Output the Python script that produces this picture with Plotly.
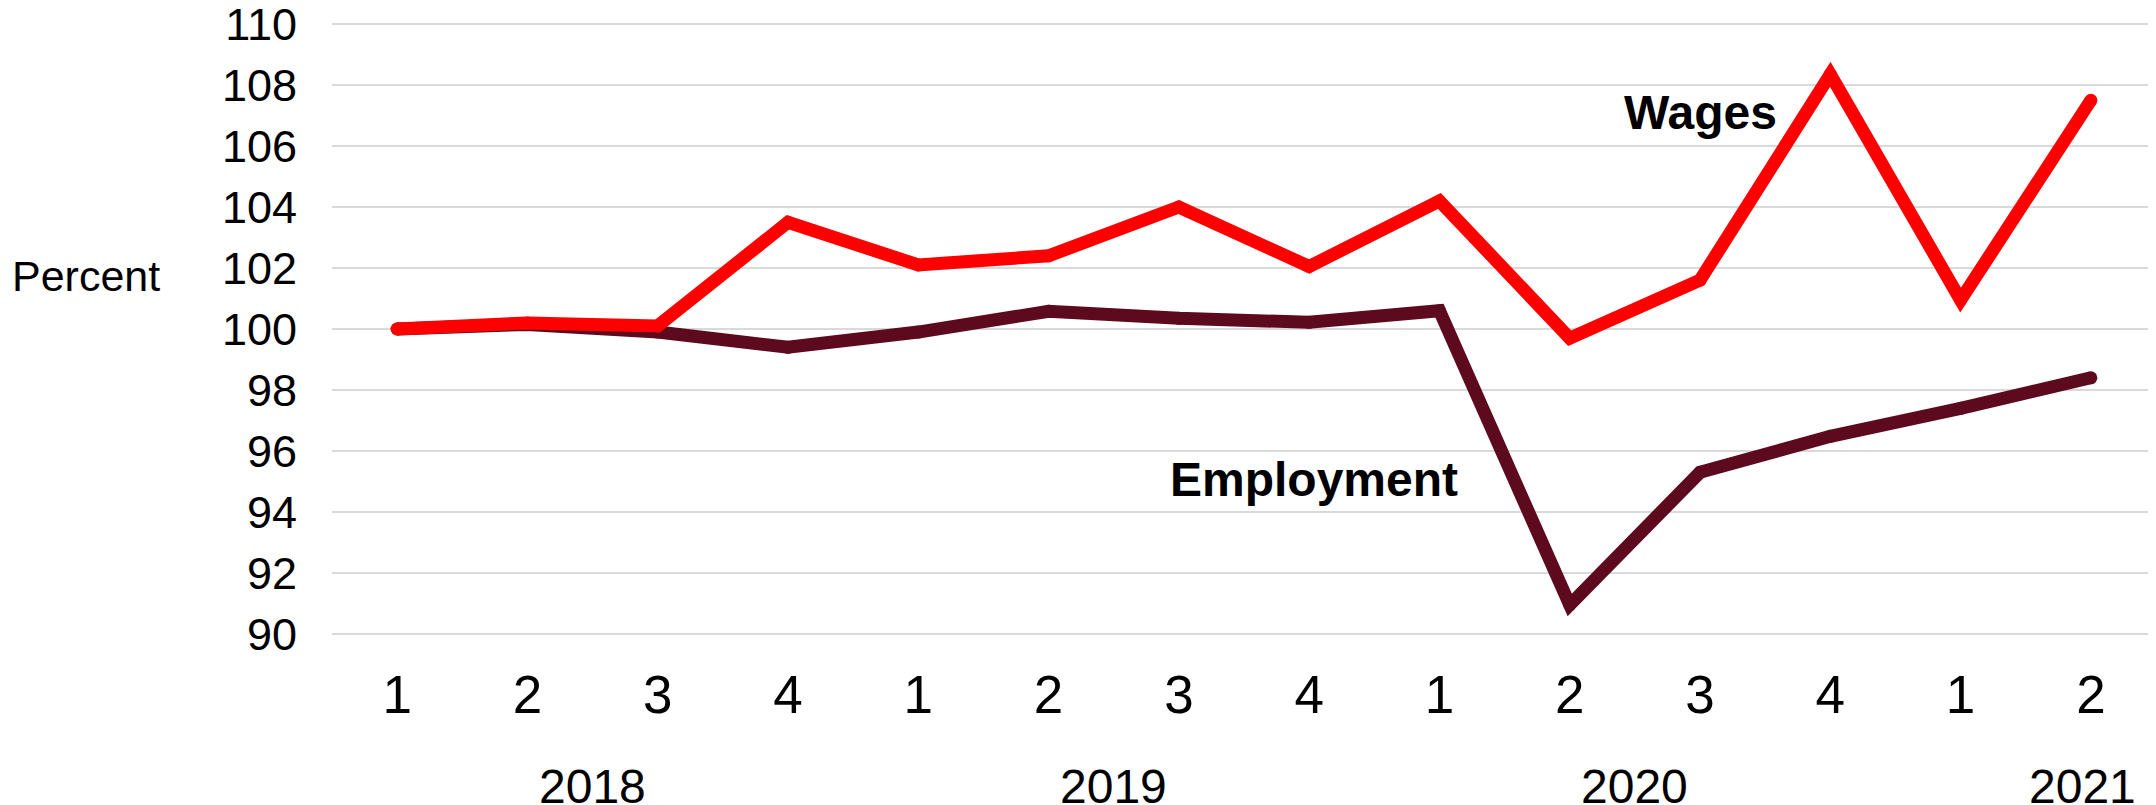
import plotly.graph_objects as go

quarters = ["1", "2", "3", "4", "1", "2", "3", "4", "1", "2", "3", "4", "1", "2"]
years = ["2018", "2018", "2018", "2018", "2019", "2019", "2019", "2019",
         "2020", "2020", "2020", "2020", "2021", "2021"]
wages = [100.0, 100.2, 100.1, 103.5, 102.1, 102.4, 104.0, 102.05,
         104.2, 99.7, 101.6, 108.35, 100.95, 107.5]
employment = [100.0, 100.15, 99.9, 99.4, 99.9, 100.58, 100.35, 100.22,
              100.6, 90.95, 95.3, 96.48, 97.4, 98.4]
y_ticks = list(range(90, 111, 2))

FONT = "Liberation Sans, Arial, sans-serif"
WAGE_COLOR = "#FF0000"
EMP_COLOR = "#5E0A1E"
LW = 13

idx = list(range(len(quarters)))

fig = go.Figure()
fig.add_trace(go.Scatter(
    x=idx, y=employment, mode="lines+markers", name="Employment",
    line=dict(color=EMP_COLOR, width=LW),
    marker=dict(color=EMP_COLOR, size=LW, line=dict(width=0)),
    showlegend=False,
))
fig.add_trace(go.Scatter(
    x=idx, y=wages, mode="lines+markers", name="Wages",
    line=dict(color=WAGE_COLOR, width=LW),
    marker=dict(color=WAGE_COLOR, size=LW, line=dict(width=0)),
    showlegend=False,
))

# Year group labels under the quarter labels
annotations = []
unique_years = []
for y in years:
    if y not in unique_years:
        unique_years.append(y)
for k, yr in enumerate(unique_years):
    pos = [i for i, v in enumerate(years) if v == yr]
    center = sum(pos) / len(pos)
    annotations.append(dict(
        x=center, xref="x", y=-0.2435, yref="paper", text=yr, showarrow=False,
        xanchor="center", yanchor="middle",
        xshift=57 if k == len(unique_years) - 1 else 0,
        font=dict(family=FONT, size=48, color="#000000"),
    ))

annotations.append(dict(
    x=-0.1349, xref="paper", y=0.586, yref="paper", text="Percent",
    showarrow=False, xanchor="center", yanchor="middle",
    font=dict(family=FONT, size=43, color="#000000"),
))
annotations.append(dict(
    x=10.0, xref="x", y=107.1, yref="y", text="<b>Wages</b>",
    showarrow=False, xanchor="center", yanchor="middle",
    font=dict(family=FONT, size=48, color="#000000"),
))
annotations.append(dict(
    x=7.04, xref="x", y=95.07, yref="y", text="<b>Employment</b>",
    showarrow=False, xanchor="center", yanchor="middle",
    font=dict(family=FONT, size=48, color="#000000"),
))

# The page body has an 8px default margin, so the figure is drawn 8px in.
fig.update_layout(
    width=2148, height=797,
    margin=dict(l=324, r=0, t=13, b=168, autoexpand=False),
    paper_bgcolor="white", plot_bgcolor="white",
    annotations=annotations,
    font=dict(family=FONT, color="#000000"),
)
fig.update_xaxes(
    automargin=False,
    tickmode="array", tickvals=idx, ticktext=quarters,
    range=[-0.5, len(idx) - 0.5],
    showgrid=False, zeroline=False, showline=False, ticks="",
    ticklabelstandoff=22, ticklabeloverflow="allow",
    tickfont=dict(family=FONT, size=53, color="#000000"),
)
fig.update_yaxes(
    automargin=False,
    range=[89.9, 110.1], tickmode="array", tickvals=y_ticks,
    showgrid=True, gridcolor="#D9D9D9", gridwidth=2,
    zeroline=False, showline=False, ticks="",
    ticklabelstandoff=34, ticklabeloverflow="allow",
    tickfont=dict(family=FONT, size=45, color="#000000"),
)

fig.write_html("out.html")
